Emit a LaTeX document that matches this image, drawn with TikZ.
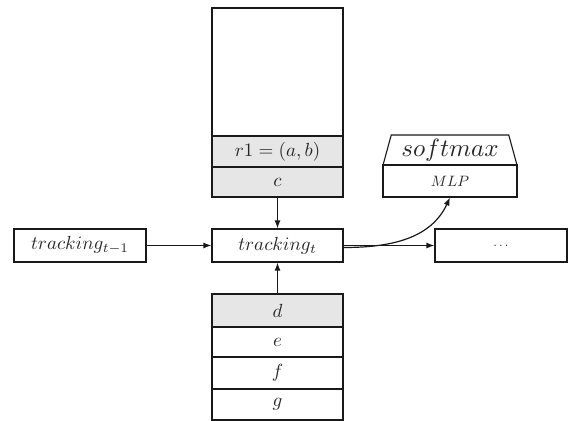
\documentclass[tikz,border=0pt]{standalone}
\usepackage{graphicx}
\usetikzlibrary{arrows.meta,shapes.geometric}
\definecolor{cellgray}{HTML}{E6E6E6}
\newcommand{\lbl}[2]{\scalebox{#1}{$#2$}}
\tikzset{
  cell/.style={draw=black!90, line width=1.1pt, minimum width=131pt, inner sep=0pt, text=black!85},
  shade/.style={fill=cellgray},
  arr/.style={line width=1.2pt, draw=black!90, -{Latex[length=8pt,width=6pt]}}
}
\begin{document}
\begin{tikzpicture}[x=1pt,y=-1pt]
\useasboundingbox (0,0) rectangle (569,420);
% top stack
\node[cell, minimum height=128pt] (top) at (277.5,72) {};
\node[cell, shade, minimum height=31pt] (r1) at (277.5,151.5) {\lbl{1.9}{r1=(a,b)}};
\node[cell, shade, minimum height=30pt] (c) at (277.5,182) {\lbl{1.9}{c}};
% middle row
\node[cell, minimum width=132pt, minimum height=33pt] (tprev) at (80,245.5) {\lbl{1.9}{tracking_{t-1}}};
\node[cell, minimum height=33pt] (tt) at (277.5,245.5) {\lbl{1.9}{tracking_t}};
\node[cell, minimum width=132pt, minimum height=33pt] (dots) at (501,245.5) {\lbl{1.3}{\ldots}};
% bottom stack
\node[cell, shade, minimum height=33pt] (d) at (277.5,310.5) {\lbl{1.9}{d}};
\node[cell, minimum height=30pt] (e) at (277.5,342) {\lbl{1.9}{e}};
\node[cell, minimum height=32pt] (f) at (277.5,373) {\lbl{1.9}{f}};
\node[cell, minimum height=31pt] (g) at (277.5,404.5) {\lbl{1.9}{g}};
% softmax / MLP
\node[cell, trapezium, trapezium angle=73, trapezium stretches=true, minimum width=134pt, minimum height=30pt] (sm) at (450,150) {\lbl{2.5}{softmax}};
\node[cell, minimum width=134pt, minimum height=32pt] (mlp) at (450,181) {\lbl{1.5}{MLP}};
% connectors
\draw[arr] (tprev) -- (tt);
\draw[arr] (c) -- (tt);
\draw[arr] (d) -- (tt);
\draw[arr] (tt) -- (dots);
\draw[arr] ([yshift=-2pt]tt.east) to[out=0,in=-115] (mlp.south);
\end{tikzpicture}
\end{document}
